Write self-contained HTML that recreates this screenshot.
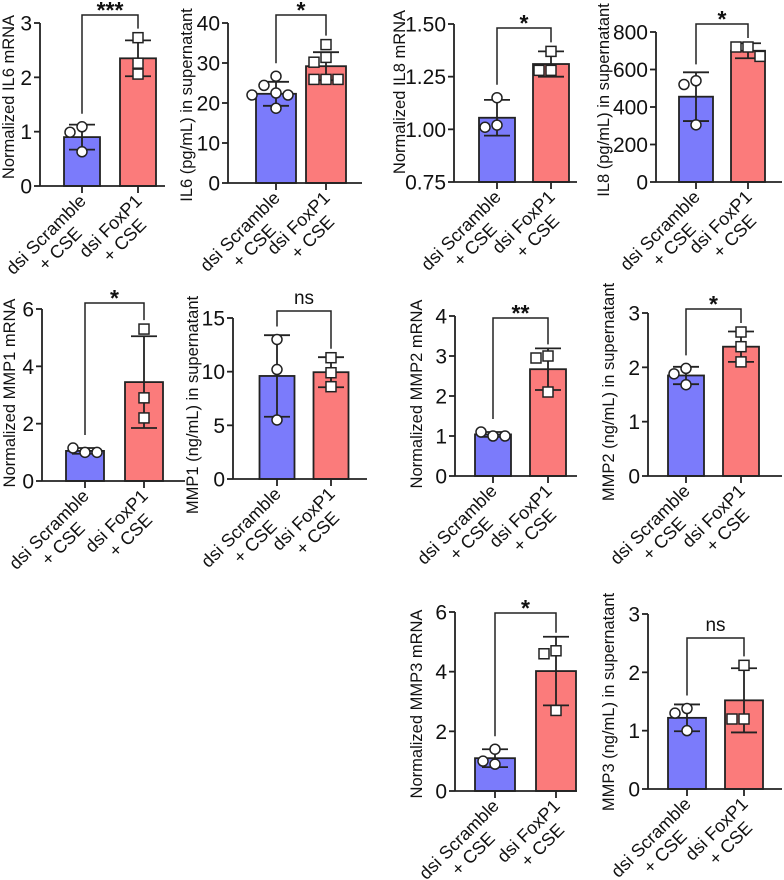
<!DOCTYPE html>
<html><head><meta charset="utf-8"><style>
html,body{margin:0;padding:0;background:#fff;}
svg{display:block;font-family:"Liberation Sans",Arial,sans-serif;}
</style></head><body>
<svg id="fig" width="784" height="880" viewBox="0 0 784 880"></svg>
<script>
// ---- data arrays ----
const groups=['dsi Scramble','dsi FoxP1'];
const il6mMeans=[0.9,2.35]; const il6mSd=[0.23,0.33];
const il6mPts=[[1.09,0.99,0.63],[2.73,2.26,2.06]];
const il6mTicks=[0,1,2,3]; const il6mTickLabels=['0','1','2','3'];

const il6sMeans=[22.3,29.2]; const il6sSd=[3.0,3.5];
const il6sPts=[[26.7,24.4,22.5,22,22,18.7],[34.6,31.4,30.2,25.9,25.9,25.9]];
const il6sTicks=[0,10,20,30,40]; const il6sTickLabels=['0','10','20','30','40'];

const il8mMeans=[1.055,1.31]; const il8mSd=[0.085,0.06];
const il8mPts=[[1.15,1.02,1.01],[1.37,1.28,1.28]];
const il8mTicks=[0.75,1.0,1.25,1.5]; const il8mTickLabels=['0.75','1.00','1.25','1.50'];

const il8sMeans=[455,700]; const il8sSd=[130,40];
const il8sPts=[[540,520,305],[720,720,670]];
const il8sTicks=[0,200,400,600,800]; const il8sTickLabels=['0','200','400','600','800'];

const mmp1mMeans=[1.05,3.45]; const mmp1mSd=[0.1,1.6];
const mmp1mPts=[[1.0,1.15,1.0],[5.3,2.9,2.2]];
const mmp1mTicks=[0,2,4,6]; const mmp1mTickLabels=['0','2','4','6'];

const mmp1sMeans=[9.6,9.95]; const mmp1sSd=[3.8,1.4];
const mmp1sPts=[[13.0,10.2,5.5],[11.3,9.9,8.6]];
const mmp1sTicks=[0,5,10,15]; const mmp1sTickLabels=['0','5','10','15'];

const mmp2mMeans=[1.04,2.67]; const mmp2mSd=[0.06,0.52];
const mmp2mPts=[[1.0,1.1,1.0],[3.0,2.95,2.1]];
const mmp2mTicks=[0,1,2,3,4]; const mmp2mTickLabels=['0','1','2','3','4'];

const mmp2sMeans=[1.85,2.38]; const mmp2sSd=[0.16,0.28];
const mmp2sPts=[[1.98,1.88,1.68],[2.65,2.38,2.1]];
const mmp2sTicks=[0,1,2,3]; const mmp2sTickLabels=['0','1','2','3'];

const mmp3mMeans=[1.1,4.02]; const mmp3mSd=[0.3,1.15];
const mmp3mPts=[[1.4,0.9,1.0],[4.7,4.6,2.7]];
const mmp3mTicks=[0,2,4,6]; const mmp3mTickLabels=['0','2','4','6'];

const mmp3sMeans=[1.22,1.52]; const mmp3sSd=[0.23,0.55];
const mmp3sPts=[[1.38,1.3,1.0],[2.12,1.2,1.2]];
const mmp3sTicks=[0,1,2,3]; const mmp3sTickLabels=['0','1','2','3'];

// ---- layout (positions only) ----
const panels=[
 {id:'il6-mrna',ax:40,right:165,top:23,bottom:186,cx:[82,138],bw:36,br:15,sig:'***',ylab:'Normalized IL6 mRNA',ylx:9,yly:97,m:il6mMeans,s:il6mSd,p:il6mPts,t:il6mTicks,tl:il6mTickLabels},
 {id:'il6-supernatant',ax:228,right:362,top:23,bottom:183,cx:[276,326],bw:40,br:15,sig:'*',ylab:'IL6 (pg/mL) in supernatant',ylx:187,yly:105,m:il6sMeans,s:il6sSd,p:il6sPts,t:il6sTicks,tl:il6sTickLabels},
 {id:'il8-mrna',ax:454,right:577,top:24,bottom:182,cx:[497,551],bw:36,br:28,sig:'*',ylab:'Normalized IL8 mRNA',ylx:400,yly:92,m:il8mMeans,s:il8mSd,p:il8mPts,t:il8mTicks,tl:il8mTickLabels},
 {id:'il8-supernatant',ax:656,right:782,top:32,bottom:182,cx:[696,748],bw:34,br:24,sig:'*',ylab:'IL8 (pg/mL) in supernatant',ylx:604,yly:100,m:il8sMeans,s:il8sSd,p:il8sPts,t:il8sTicks,tl:il8sTickLabels},
 {id:'mmp1-mrna',ax:42,right:185,top:309,bottom:481,cx:[85,144],bw:38,br:303,sig:'*',ylab:'Normalized MMP1 mRNA',ylx:10,yly:393,m:mmp1mMeans,s:mmp1mSd,p:mmp1mPts,t:mmp1mTicks,tl:mmp1mTickLabels},
 {id:'mmp1-supernatant',ax:233,right:367,top:318,bottom:479,cx:[277,331],bw:35,br:311,sig:'ns',ylab:'MMP1 (ng/mL) in supernatant',ylx:193,yly:405,m:mmp1sMeans,s:mmp1sSd,p:mmp1sPts,t:mmp1sTicks,tl:mmp1sTickLabels},
 {id:'mmp2-mrna',ax:455,right:577,top:316,bottom:476,cx:[493,548],bw:36,br:318,sig:'**',ylab:'Normalized MMP2 mRNA',ylx:417,yly:394,m:mmp2mMeans,s:mmp2mSd,p:mmp2mPts,t:mmp2mTicks,tl:mmp2mTickLabels},
 {id:'mmp2-supernatant',ax:648,right:782,top:313,bottom:476,cx:[686,741],bw:36,br:309,sig:'*',ylab:'MMP2 (ng/mL) in supernatant',ylx:609,yly:392,m:mmp2sMeans,s:mmp2sSd,p:mmp2sPts,t:mmp2sTicks,tl:mmp2sTickLabels},
 {id:'mmp3-mrna',ax:455,right:577,top:612,bottom:791,cx:[495,556],bw:40,br:613,sig:'*',ylab:'Normalized MMP3 mRNA',ylx:417,yly:704,m:mmp3mMeans,s:mmp3mSd,p:mmp3mPts,t:mmp3mTicks,tl:mmp3mTickLabels},
 {id:'mmp3-supernatant',ax:648,right:782,top:614,bottom:789,cx:[687,744],bw:38,br:638,sig:'ns',ylab:'MMP3 (ng/mL) in supernatant',ylx:609,yly:702,m:mmp3sMeans,s:mmp3sSd,p:mmp3sPts,t:mmp3sTicks,tl:mmp3sTickLabels}
];
const COLORS=['#7b7bfb','#fb7b7b'];
const NS='http://www.w3.org/2000/svg';
const svg=document.getElementById('fig');
function mk(tag,attrs,parent){const e=document.createElementNS(NS,tag);for(const k in attrs)e.setAttribute(k,attrs[k]);(parent||svg).appendChild(e);return e;}

panels.forEach(P=>{
  const g=mk('g',{});
  
  
  const ymin=P.t[0], ymax=P.t[P.t.length-1];
  const y=v=>P.bottom-(v-ymin)/(ymax-ymin)*(P.bottom-P.top);
  P.m.forEach((mv,i)=>{
    const r=mk('rect',{x:P.cx[i]-P.bw/2,y:y(mv),width:P.bw,height:P.bottom-y(mv),fill:COLORS[i],stroke:'#222','stroke-width':1.8},g);
    
    
  });
  P.m.forEach((mv,i)=>{
    const hi=y(mv+P.s[i]), lo=y(Math.max(ymin,mv-P.s[i])), c=P.cx[i];
    const eg=mk('g',{stroke:'#222','stroke-width':1.8},g);
    
    
    mk('line',{x1:c,x2:c,y1:hi,y2:lo},eg);
    mk('line',{x1:c-13,x2:c+13,y1:hi,y2:hi},eg);
    mk('line',{x1:c-13,x2:c+13,y1:lo,y2:lo},eg);
  });
  P.p.forEach((arr,i)=>{
    const placed=[];
    arr.forEach(v=>{
      const py=y(v); let off=0;
      for(const o of [0,-12,12,-24,24]){
        if(placed.every(q=>Math.hypot(q[0]-o,q[1]-py)>=10.5)){off=o;break;}
      }
      placed.push([off,py]);
      const px=P.cx[i]+off;
      let e;
      if(i===0) e=mk('circle',{cx:px,cy:py,r:5,fill:'#fff',stroke:'#222','stroke-width':1.5},g);
      else e=mk('rect',{x:px-5,y:py-5,width:10,height:10,fill:'#fff',stroke:'#222','stroke-width':1.5},g);
      
      
    });
  });
  const ya=mk('line',{x1:P.ax,x2:P.ax,y1:P.top,y2:P.bottom,stroke:'#222','stroke-width':1.8},g);
  
  
  const xa=mk('line',{x1:P.ax,x2:P.right,y1:P.bottom,y2:P.bottom,stroke:'#222','stroke-width':1.8},g);
  
  
  P.t.forEach((tv,k)=>{
    const ty=y(tv);
    mk('line',{x1:P.ax-6,x2:P.ax,y1:ty,y2:ty,stroke:'#222','stroke-width':1.8},g);
    const tt=mk('text',{x:P.ax-8,y:ty+7.5,'text-anchor':'end','font-size':21,fill:'#111'},g);
    tt.textContent=P.tl[k];
    
    
  });
  P.cx.forEach((c,i)=>{
    mk('line',{x1:c,x2:c,y1:P.bottom,y2:P.bottom+7,stroke:'#222','stroke-width':1.8},g);
    const lg=mk('g',{transform:'translate('+(c+5)+','+(P.bottom+16)+') rotate(-45)'},g);
    
    
    const t1=mk('text',{x:0,y:0,'text-anchor':'end','font-size':18,fill:'#111'},lg);
    t1.textContent=groups[i];
    const w=t1.getComputedTextLength();
    const t2=mk('text',{x:-w/2,y:20,'text-anchor':'middle','font-size':18,fill:'#111'},lg);
    t2.textContent='+ CSE';
  });
  const yl=mk('text',{x:P.ylx,y:P.yly,'text-anchor':'middle','dominant-baseline':'central','font-size':16.5,fill:'#111',transform:'rotate(-90 '+P.ylx+' '+P.yly+')'},g);
  yl.textContent=P.ylab;
  
  
  const tops=P.m.map((mv,i)=>Math.min(y(mv+P.s[i]),...P.p[i].map(v=>y(v)-5)));
  const bg=mk('g',{},g);
  
  
  mk('polyline',{points:P.cx[0]+','+(tops[0]-8)+' '+P.cx[0]+','+P.br+' '+P.cx[1]+','+P.br+' '+P.cx[1]+','+(tops[1]-4),fill:'none',stroke:'#222','stroke-width':1.5},bg);
  const st=mk('text',{x:(P.cx[0]+P.cx[1])/2,y:P.sig==='ns'?P.br-7:P.br+3,'text-anchor':'middle','font-size':P.sig==='ns'?19:23,'font-weight':P.sig==='ns'?'normal':'bold',fill:'#111'},bg);
  st.textContent=P.sig;
});
</script>
</body></html>
